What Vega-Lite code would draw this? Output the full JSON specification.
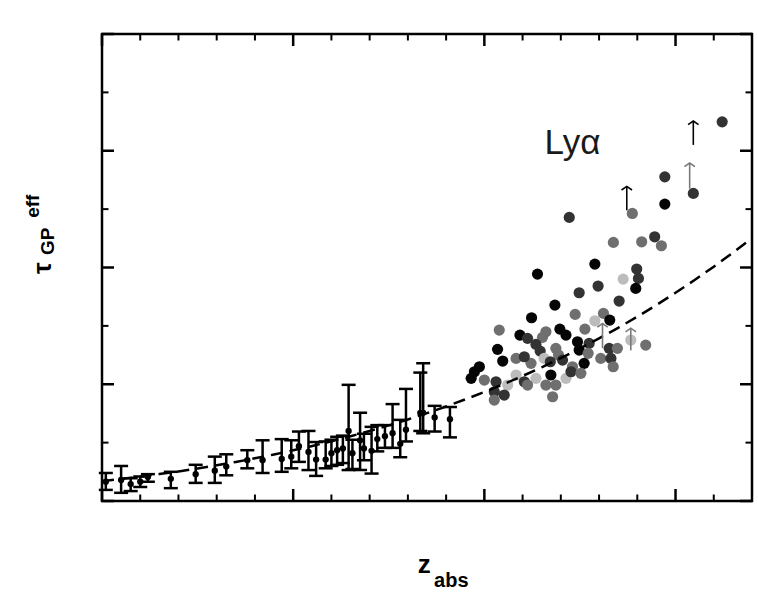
{
  "$schema": "https://vega.github.io/schema/vega-lite/v6.json",
  "width": 650,
  "height": 467,
  "autosize": {"type": "none"},
  "padding": {"left": 102, "top": 34, "right": 6, "bottom": 99},
  "config": {
    "view": {"stroke": "black", "strokeWidth": 2.5},
    "axis": {"grid": false, "title": null}
  },
  "datasets": {
    "low": [
      {"z": 3.02, "tau": 0.33, "lo": 0.19, "hi": 0.48},
      {"z": 3.10, "tau": 0.36, "lo": 0.14, "hi": 0.60},
      {"z": 3.15, "tau": 0.29, "lo": 0.17, "hi": 0.39},
      {"z": 3.20, "tau": 0.33, "lo": 0.24, "hi": 0.42},
      {"z": 3.24, "tau": 0.41, "lo": 0.33, "hi": 0.46},
      {"z": 3.36, "tau": 0.38, "lo": 0.22, "hi": 0.50},
      {"z": 3.49, "tau": 0.46, "lo": 0.31, "hi": 0.62},
      {"z": 3.59, "tau": 0.52, "lo": 0.31, "hi": 0.76},
      {"z": 3.65, "tau": 0.59, "lo": 0.44, "hi": 0.80},
      {"z": 3.76, "tau": 0.70, "lo": 0.56, "hi": 0.87},
      {"z": 3.84, "tau": 0.70, "lo": 0.48, "hi": 1.04},
      {"z": 3.94, "tau": 0.72, "lo": 0.50, "hi": 1.06},
      {"z": 3.99, "tau": 0.76, "lo": 0.56, "hi": 1.04},
      {"z": 4.03, "tau": 0.94, "lo": 0.67, "hi": 1.19},
      {"z": 4.08, "tau": 0.84, "lo": 0.53, "hi": 1.20},
      {"z": 4.12, "tau": 0.71, "lo": 0.43, "hi": 1.01},
      {"z": 4.17, "tau": 0.71, "lo": 0.56, "hi": 1.02},
      {"z": 4.20, "tau": 0.82, "lo": 0.60, "hi": 1.05},
      {"z": 4.23, "tau": 0.87, "lo": 0.62, "hi": 1.10},
      {"z": 4.26, "tau": 0.90, "lo": 0.65, "hi": 1.12},
      {"z": 4.29, "tau": 1.20, "lo": 0.53, "hi": 1.99},
      {"z": 4.31, "tau": 0.82, "lo": 0.55, "hi": 1.05},
      {"z": 4.35, "tau": 1.04, "lo": 0.53, "hi": 1.51},
      {"z": 4.37, "tau": 0.90, "lo": 0.70, "hi": 1.15},
      {"z": 4.41, "tau": 0.86, "lo": 0.47, "hi": 1.27},
      {"z": 4.44, "tau": 1.06, "lo": 0.85, "hi": 1.30},
      {"z": 4.48, "tau": 1.11, "lo": 0.91, "hi": 1.30},
      {"z": 4.52, "tau": 1.16, "lo": 0.91, "hi": 1.66},
      {"z": 4.56, "tau": 0.98, "lo": 0.75, "hi": 1.39},
      {"z": 4.59, "tau": 1.22, "lo": 1.02, "hi": 1.92},
      {"z": 4.665, "tau": 1.51, "lo": 1.20, "hi": 2.20},
      {"z": 4.68, "tau": 1.51, "lo": 1.16, "hi": 2.36},
      {"z": 4.74, "tau": 1.43, "lo": 1.19, "hi": 1.63},
      {"z": 4.82, "tau": 1.40, "lo": 1.09, "hi": 1.61}
    ],
    "high": [
      {"z": 5.278, "tau": 3.887, "shade": "k"}, {"z": 5.578, "tau": 4.058, "shade": "k"}, {"z": 5.797, "tau": 3.973, "shade": "d"},
      {"z": 5.726, "tau": 3.801, "shade": "l"}, {"z": 5.806, "tau": 3.813, "shade": "d"}, {"z": 5.792, "tau": 3.642, "shade": "k"},
      {"z": 5.595, "tau": 3.682, "shade": "d"}, {"z": 5.496, "tau": 3.567, "shade": "d"}, {"z": 5.705, "tau": 3.425, "shade": "d"},
      {"z": 5.369, "tau": 3.356, "shade": "k"}, {"z": 5.475, "tau": 3.197, "shade": "m"}, {"z": 5.247, "tau": 3.139, "shade": "k"},
      {"z": 5.623, "tau": 3.214, "shade": "m"}, {"z": 5.656, "tau": 3.099, "shade": "k"}, {"z": 5.578, "tau": 3.087, "shade": "l"},
      {"z": 5.526, "tau": 2.945, "shade": "m"}, {"z": 5.078, "tau": 2.928, "shade": "m"}, {"z": 5.395, "tau": 2.945, "shade": "k"},
      {"z": 5.427, "tau": 2.842, "shade": "k"}, {"z": 5.322, "tau": 2.899, "shade": "m"}, {"z": 5.186, "tau": 2.842, "shade": "k"},
      {"z": 5.226, "tau": 2.786, "shade": "d"}, {"z": 5.304, "tau": 2.803, "shade": "m"}, {"z": 5.270, "tau": 2.683, "shade": "d"},
      {"z": 5.487, "tau": 2.728, "shade": "k"}, {"z": 5.548, "tau": 2.700, "shade": "d"}, {"z": 5.069, "tau": 2.598, "shade": "k"},
      {"z": 5.292, "tau": 2.568, "shade": "d"}, {"z": 5.374, "tau": 2.615, "shade": "m"}, {"z": 5.388, "tau": 2.500, "shade": "m"},
      {"z": 5.496, "tau": 2.586, "shade": "k"}, {"z": 5.543, "tau": 2.529, "shade": "m"}, {"z": 5.653, "tau": 2.615, "shade": "d"},
      {"z": 5.696, "tau": 2.615, "shade": "m"}, {"z": 5.766, "tau": 2.757, "shade": "l"}, {"z": 5.844, "tau": 2.671, "shade": "m"},
      {"z": 5.096, "tau": 2.397, "shade": "k"}, {"z": 5.166, "tau": 2.443, "shade": "m"}, {"z": 5.244, "tau": 2.358, "shade": "m"},
      {"z": 5.209, "tau": 2.471, "shade": "d"}, {"z": 5.313, "tau": 2.443, "shade": "l"}, {"z": 5.345, "tau": 2.385, "shade": "d"},
      {"z": 5.409, "tau": 2.414, "shade": "d"}, {"z": 5.461, "tau": 2.300, "shade": "m"}, {"z": 5.522, "tau": 2.358, "shade": "k"},
      {"z": 5.609, "tau": 2.443, "shade": "m"}, {"z": 5.662, "tau": 2.443, "shade": "d"}, {"z": 5.674, "tau": 2.300, "shade": "m"},
      {"z": 4.974, "tau": 2.300, "shade": "k"}, {"z": 4.948, "tau": 2.214, "shade": "k"}, {"z": 4.931, "tau": 2.101, "shade": "k"},
      {"z": 5.000, "tau": 2.072, "shade": "m"}, {"z": 5.061, "tau": 2.043, "shade": "d"}, {"z": 5.166, "tau": 2.158, "shade": "l"},
      {"z": 5.209, "tau": 2.043, "shade": "d"}, {"z": 5.270, "tau": 2.101, "shade": "l"}, {"z": 5.348, "tau": 2.158, "shade": "k"},
      {"z": 5.427, "tau": 2.101, "shade": "l"}, {"z": 5.453, "tau": 2.214, "shade": "d"}, {"z": 5.505, "tau": 2.187, "shade": "m"},
      {"z": 5.122, "tau": 1.986, "shade": "l"}, {"z": 5.226, "tau": 1.986, "shade": "m"}, {"z": 5.322, "tau": 1.986, "shade": "m"},
      {"z": 5.374, "tau": 1.986, "shade": "m"}, {"z": 5.052, "tau": 1.872, "shade": "d"}, {"z": 5.104, "tau": 1.815, "shade": "d"},
      {"z": 5.052, "tau": 1.729, "shade": "m"}, {"z": 5.357, "tau": 1.786, "shade": "m"}, {"z": 6.244, "tau": 6.495, "shade": "d"},
      {"z": 5.944, "tau": 5.553, "shade": "d"}, {"z": 6.093, "tau": 5.269, "shade": "d"}, {"z": 5.944, "tau": 5.086, "shade": "k"},
      {"z": 5.444, "tau": 4.858, "shade": "d"}, {"z": 5.774, "tau": 4.926, "shade": "m"}, {"z": 5.675, "tau": 4.430, "shade": "m"},
      {"z": 5.823, "tau": 4.440, "shade": "m"}, {"z": 5.891, "tau": 4.526, "shade": "d"}, {"z": 5.926, "tau": 4.372, "shade": "m"}
    ],
    "curve": [
      {"z": 3.0, "tau": 0.340}, {"z": 3.1, "tau": 0.377}, {"z": 3.2, "tau": 0.417},
      {"z": 3.3, "tau": 0.461}, {"z": 3.4, "tau": 0.507}, {"z": 3.5, "tau": 0.558},
      {"z": 3.6, "tau": 0.612}, {"z": 3.7, "tau": 0.669}, {"z": 3.8, "tau": 0.731},
      {"z": 3.9, "tau": 0.797}, {"z": 4.0, "tau": 0.868}, {"z": 4.1, "tau": 0.943},
      {"z": 4.2, "tau": 1.023}, {"z": 4.3, "tau": 1.109}, {"z": 4.4, "tau": 1.199},
      {"z": 4.5, "tau": 1.295}, {"z": 4.6, "tau": 1.397}, {"z": 4.7, "tau": 1.505},
      {"z": 4.8, "tau": 1.619}, {"z": 4.9, "tau": 1.740}, {"z": 5.0, "tau": 1.867},
      {"z": 5.1, "tau": 2.001}, {"z": 5.2, "tau": 2.142}, {"z": 5.3, "tau": 2.291},
      {"z": 5.4, "tau": 2.448}, {"z": 5.5, "tau": 2.613}, {"z": 5.6, "tau": 2.786},
      {"z": 5.7, "tau": 2.967}, {"z": 5.8, "tau": 3.157}, {"z": 5.9, "tau": 3.357},
      {"z": 6.0, "tau": 3.567}, {"z": 6.1, "tau": 3.786}, {"z": 6.2, "tau": 4.014},
      {"z": 6.3, "tau": 4.254}, {"z": 6.4, "tau": 4.504}
    ],
    "arrows": [
      {"z": 6.093, "y0": 6.10, "y1": 6.51, "shade": "k"},
      {"z": 6.074, "y0": 5.35, "y1": 5.79, "shade": "g"},
      {"z": 5.745, "y0": 4.98, "y1": 5.39, "shade": "k"},
      {"z": 5.618, "y0": 2.62, "y1": 3.04, "shade": "g"},
      {"z": 5.766, "y0": 2.58, "y1": 2.96, "shade": "g"}
    ],
    "xmajor": [{"v": 3}, {"v": 4}, {"v": 5}, {"v": 6}],
    "xminor": [{"v": 3.2}, {"v": 3.4}, {"v": 3.6}, {"v": 3.8}, {"v": 4.2}, {"v": 4.4}, {"v": 4.6}, {"v": 4.8}, {"v": 5.2}, {"v": 5.4}, {"v": 5.6}, {"v": 5.8}, {"v": 6.2}],
    "ymajor": [{"v": 0}, {"v": 2}, {"v": 4}, {"v": 6}, {"v": 8}],
    "yminor": [{"v": 1}, {"v": 3}, {"v": 5}, {"v": 7}]
  },
  "layer": [
    {
      "data": {"name": "low"},
      "mark": {"type": "rule", "strokeWidth": 2.5, "color": "black"},
      "encoding": {
        "x": {"field": "z", "type": "quantitative", "scale": {"domain": [3, 6.4], "nice": false, "zero": false},
              "axis": {"orient": "bottom", "values": [3, 4, 5, 6], "ticks": false, "domain": false, "labelPadding": 15, "labelFont": "Liberation Sans", "labelFontSize": 25, "labelColor": "black", "labelFlush": false, "labelOverlap": false}},
        "y": {"field": "lo", "type": "quantitative", "scale": {"domain": [0, 8], "nice": false, "zero": false},
              "axis": {"orient": "left", "values": [0, 2, 4, 6, 8], "ticks": false, "domain": false, "labelAngle": -90, "labelAlign": "center", "labelBaseline": "alphabetic", "labelPadding": 15, "labelFont": "Liberation Sans", "labelFontSize": 25, "labelColor": "black", "labelFlush": false, "labelOverlap": false}},
        "y2": {"field": "hi"}
      }
    },
    {
      "data": {"name": "low"},
      "transform": [{"fold": ["lo", "hi"], "as": ["end", "val"]}],
      "mark": {"type": "tick", "orient": "horizontal", "size": 14, "thickness": 2.5, "color": "black", "opacity": 1},
      "encoding": {
        "x": {"field": "z", "type": "quantitative", "axis": null},
        "y": {"field": "val", "type": "quantitative", "axis": null}
      }
    },
    {
      "data": {"name": "low"},
      "mark": {"type": "circle", "size": 40, "color": "black", "opacity": 1},
      "encoding": {
        "x": {"field": "z", "type": "quantitative", "axis": null},
        "y": {"field": "tau", "type": "quantitative", "axis": null}
      }
    },
    {
      "data": {"name": "high"},
      "mark": {"type": "circle", "size": 125, "opacity": 1},
      "encoding": {
        "x": {"field": "z", "type": "quantitative", "axis": null},
        "y": {"field": "tau", "type": "quantitative", "axis": null},
        "color": {"field": "shade", "type": "nominal", "legend": null,
                  "scale": {"domain": ["k", "d", "m", "l", "g"], "range": ["#050505", "#333333", "#6f6f6f", "#bcbcbc", "#7a7a7a"]}}
      }
    },
    {
      "data": {"name": "curve"},
      "mark": {"type": "line", "color": "black", "strokeWidth": 2.5, "strokeDash": [12, 7]},
      "encoding": {
        "x": {"field": "z", "type": "quantitative", "axis": null},
        "y": {"field": "tau", "type": "quantitative", "axis": null}
      }
    },
    {
      "data": {"name": "arrows"},
      "mark": {"type": "rule", "strokeWidth": 1.6},
      "encoding": {
        "x": {"field": "z", "type": "quantitative", "axis": null},
        "y": {"field": "y0", "type": "quantitative", "axis": null},
        "y2": {"field": "y1"},
        "color": {"field": "shade", "type": "nominal", "legend": null}
      }
    },
    {
      "data": {"name": "arrows"},
      "mark": {"type": "point", "shape": "M-1,0.7L0,0L1,0.7", "filled": false, "size": 110, "strokeWidth": 1.6, "opacity": 1},
      "encoding": {
        "x": {"field": "z", "type": "quantitative", "axis": null},
        "y": {"field": "y1", "type": "quantitative", "axis": null},
        "color": {"field": "shade", "type": "nominal", "legend": null}
      }
    },
    {
      "data": {"name": "xmajor"},
      "mark": {"type": "tick", "orient": "vertical", "size": 12, "thickness": 2.5, "color": "black", "opacity": 1, "yOffset": -6},
      "encoding": {
        "x": {"field": "v", "type": "quantitative", "axis": null},
        "y": {"datum": 0, "type": "quantitative", "axis": null}
      }
    },
    {
      "data": {"name": "xmajor"},
      "mark": {"type": "tick", "orient": "vertical", "size": 12, "thickness": 2.5, "color": "black", "opacity": 1, "yOffset": 6},
      "encoding": {
        "x": {"field": "v", "type": "quantitative", "axis": null},
        "y": {"datum": 8, "type": "quantitative", "axis": null}
      }
    },
    {
      "data": {"name": "xminor"},
      "mark": {"type": "tick", "orient": "vertical", "size": 6.5, "thickness": 2, "color": "black", "opacity": 1, "yOffset": -3.25},
      "encoding": {
        "x": {"field": "v", "type": "quantitative", "axis": null},
        "y": {"datum": 0, "type": "quantitative", "axis": null}
      }
    },
    {
      "data": {"name": "xminor"},
      "mark": {"type": "tick", "orient": "vertical", "size": 6.5, "thickness": 2, "color": "black", "opacity": 1, "yOffset": 3.25},
      "encoding": {
        "x": {"field": "v", "type": "quantitative", "axis": null},
        "y": {"datum": 8, "type": "quantitative", "axis": null}
      }
    },
    {
      "data": {"name": "ymajor"},
      "mark": {"type": "tick", "orient": "horizontal", "size": 12, "thickness": 2.5, "color": "black", "opacity": 1, "xOffset": 6},
      "encoding": {
        "y": {"field": "v", "type": "quantitative", "axis": null},
        "x": {"datum": 3, "type": "quantitative", "axis": null}
      }
    },
    {
      "data": {"name": "ymajor"},
      "mark": {"type": "tick", "orient": "horizontal", "size": 12, "thickness": 2.5, "color": "black", "opacity": 1, "xOffset": -6},
      "encoding": {
        "y": {"field": "v", "type": "quantitative", "axis": null},
        "x": {"datum": 6.4, "type": "quantitative", "axis": null}
      }
    },
    {
      "data": {"name": "yminor"},
      "mark": {"type": "tick", "orient": "horizontal", "size": 6.5, "thickness": 2, "color": "black", "opacity": 1, "xOffset": 3.25},
      "encoding": {
        "y": {"field": "v", "type": "quantitative", "axis": null},
        "x": {"datum": 3, "type": "quantitative", "axis": null}
      }
    },
    {
      "data": {"name": "yminor"},
      "mark": {"type": "tick", "orient": "horizontal", "size": 6.5, "thickness": 2, "color": "black", "opacity": 1, "xOffset": -3.25},
      "encoding": {
        "y": {"field": "v", "type": "quantitative", "axis": null},
        "x": {"datum": 6.4, "type": "quantitative", "axis": null}
      }
    },
    {
      "data": {"values": [{"x": 5.461, "y": 5.95, "t": "Lyα"}]},
      "mark": {"type": "text", "font": "Liberation Sans", "fontSize": 35, "color": "#1a1a1a", "align": "center", "baseline": "alphabetic"},
      "encoding": {
        "x": {"field": "x", "type": "quantitative", "axis": null},
        "y": {"field": "y", "type": "quantitative", "axis": null},
        "text": {"field": "t"}
      }
    },
    {
      "data": {"values": [{"x": 4.686, "y": -1.233, "t": "z", "s": 26}, {"x": 4.827, "y": -1.473, "t": "abs", "s": 20}]},
      "mark": {"type": "text", "font": "Liberation Sans", "fontWeight": "bold", "color": "black", "align": "center", "baseline": "alphabetic"},
      "encoding": {
        "x": {"field": "x", "type": "quantitative", "axis": null},
        "y": {"field": "y", "type": "quantitative", "axis": null},
        "text": {"field": "t"},
        "size": {"field": "s", "type": "quantitative", "scale": null}
      }
    },
    {
      "data": {"values": [{"x": 2.69, "y": 3.99, "t": "τ", "s": 26}, {"x": 2.72, "y": 4.45, "t": "GP", "s": 19}, {"x": 2.64, "y": 5.05, "t": "eff", "s": 19}]},
      "mark": {"type": "text", "font": "Liberation Sans", "fontWeight": "bold", "color": "black", "align": "center", "baseline": "middle", "angle": 270},
      "encoding": {
        "x": {"field": "x", "type": "quantitative", "axis": null},
        "y": {"field": "y", "type": "quantitative", "axis": null},
        "text": {"field": "t"},
        "size": {"field": "s", "type": "quantitative", "scale": null}
      }
    }
  ]
}
